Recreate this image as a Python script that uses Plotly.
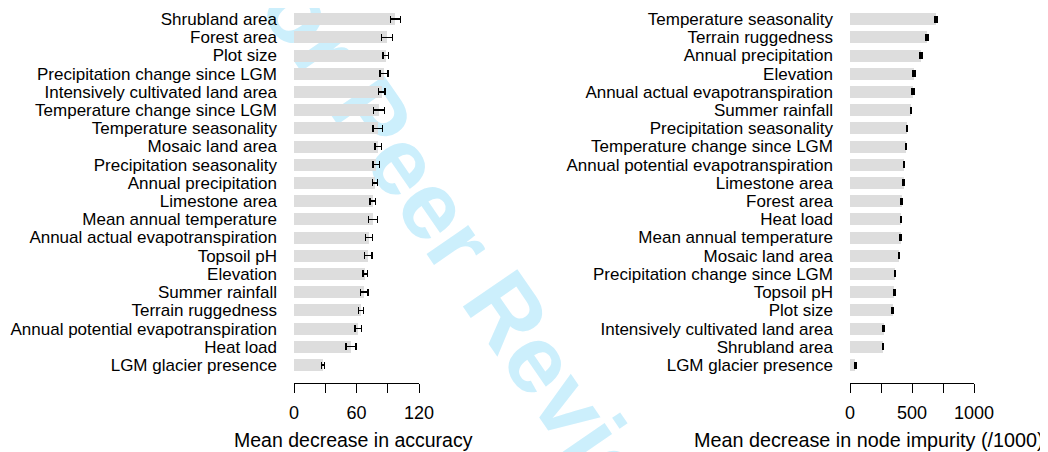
import math

import plotly.graph_objects as go

FONT = "Liberation Sans, Arial, Helvetica, sans-serif"

# left panel: mean decrease in accuracy
acc_labels = [
    "Shrubland area", "Forest area", "Plot size", "Precipitation change since LGM",
    "Intensively cultivated land area", "Temperature change since LGM",
    "Temperature seasonality", "Mosaic land area", "Precipitation seasonality",
    "Annual precipitation", "Limestone area", "Mean annual temperature",
    "Annual actual evapotranspiration", "Topsoil pH", "Elevation", "Summer rainfall",
    "Terrain ruggedness", "Annual potential evapotranspiration", "Heat load",
    "LGM glacier presence",
]
acc_values = [97.2, 89.2, 88.2, 86.3, 84.3, 81.8, 80.5, 81.0, 78.9, 78.0,
              75.7, 75.7, 72.0, 71.2, 68.3, 67.4, 64.5, 61.6, 54.9, 27.9]
acc_err = [4.8, 5.3, 2.8, 3.9, 2.9, 5.3, 4.6, 3.1, 2.9, 2.4,
           2.7, 4.2, 3.1, 3.6, 2.2, 3.6, 2.3, 3.2, 4.8, 1.5]

# right panel: mean decrease in node impurity (/1000)
imp_labels = [
    "Temperature seasonality", "Terrain ruggedness", "Annual precipitation", "Elevation",
    "Annual actual evapotranspiration", "Summer rainfall", "Precipitation seasonality",
    "Temperature change since LGM", "Annual potential evapotranspiration",
    "Limestone area", "Forest area", "Heat load", "Mean annual temperature",
    "Mosaic land area", "Precipitation change since LGM", "Topsoil pH", "Plot size",
    "Intensively cultivated land area", "Shrubland area", "LGM glacier presence",
]
imp_values = [693, 621, 573, 516, 508, 492, 460, 452, 435, 432,
              417, 411, 410, 395, 363, 358, 344, 272, 264, 43]
imp_err = [9, 9, 8, 7, 8, 6, 6, 6, 6, 6,
           6, 6, 6, 5, 5, 5, 5, 5, 4, 4]

acc_ticks = [0, 30, 60, 90, 120]
acc_ticktext = ["0", "", "60", "", "120"]
imp_ticks = [0, 250, 500, 750, 1000]
imp_ticktext = ["0", "", "500", "", "1000"]

acc_title = "Mean decrease in accuracy"
imp_title = "Mean decrease in node impurity (/1000)"
watermark = "For Peer Review"

# page body adds an 8px margin, so the figure is 8px smaller and all
# reference pixel positions are shifted by 8
OFF = 8
W, H = 1048 - OFF, 452 - OFF
BAR = "#DDDDDD"
err_style = dict(type="data", visible=True, color="black", thickness=1.4, width=3.5)


def px_x(v):
    return (v - OFF) / W


def px_y(v):
    return 1 - (v - OFF) / H


fig = go.Figure()
fig.add_trace(go.Bar(
    x=acc_values, y=acc_labels, orientation="h", width=0.66,
    marker=dict(color=BAR, line=dict(width=0)),
    error_x=dict(array=acc_err, **err_style),
    xaxis="x", yaxis="y", showlegend=False,
))
fig.add_trace(go.Bar(
    x=imp_values, y=imp_labels, orientation="h", width=0.66,
    marker=dict(color=BAR, line=dict(width=0)),
    error_x=dict(array=imp_err, **err_style),
    xaxis="x2", yaxis="y2", showlegend=False,
))

ydom = [px_y(374.1), px_y(9.9)]

xcommon = dict(
    anchor="free", position=px_y(383), showline=True, linecolor="black", linewidth=1,
    ticks="outside", ticklen=9, tickwidth=1, tickcolor="black",
    showgrid=False, zeroline=False, tickfont=dict(size=18, color="black"),
    ticklabelstandoff=4, fixedrange=True, automargin=False,
)
ycommon = dict(
    type="category", range=[19.5, -0.5], showline=False, ticks="",
    showgrid=False, zeroline=False, tickfont=dict(size=17, color="black"),
    ticklabelstandoff=16, fixedrange=True, automargin=False, tickmode="array",
)

# watermark, drawn below the bars as a label on an invisible line
cx, cy, L = 470, 242, 300
a = math.radians(55.5)
x0, y0 = cx - L * math.cos(a), cy - L * math.sin(a)
x1, y1 = cx + L * math.cos(a), cy + L * math.sin(a)

fig.update_layout(
    width=W, height=H,
    margin=dict(l=0, r=0, t=0, b=0),
    plot_bgcolor="white", paper_bgcolor="white",
    font=dict(family=FONT, color="black"),
    bargap=0,
    xaxis=dict(domain=[px_x(294), px_x(419)], range=[0, 120], tickvals=acc_ticks,
               ticktext=acc_ticktext, **xcommon),
    yaxis=dict(domain=ydom, anchor="x", tickvals=acc_labels, ticktext=acc_labels, **ycommon),
    xaxis2=dict(domain=[px_x(850), px_x(974)], range=[0, 1000], tickvals=imp_ticks,
                ticktext=imp_ticktext, **xcommon),
    yaxis2=dict(domain=ydom, anchor="x2", tickvals=imp_labels, ticktext=imp_labels, **ycommon),
    annotations=[
        dict(text=acc_title, xref="paper", yref="paper", x=px_x(353.5), y=px_y(440),
             xanchor="center", yanchor="middle", showarrow=False, font=dict(size=19.5)),
        dict(text=imp_title, xref="paper", yref="paper", x=px_x(869), y=px_y(440),
             xanchor="center", yanchor="middle", showarrow=False, font=dict(size=19.8)),
    ],
    shapes=[dict(
        type="line", xref="paper", yref="paper", layer="below",
        x0=px_x(x0), y0=px_y(y0), x1=px_x(x1), y1=px_y(y1),
        line=dict(width=0, color="rgba(0,0,0,0)"),
        label=dict(text=watermark, textposition="middle", yanchor="middle",
                   font=dict(size=96, family=FONT, weight="bold",
                             color="rgba(0,174,239,0.2)")),
    )],
)

fig.write_html("out.html")
